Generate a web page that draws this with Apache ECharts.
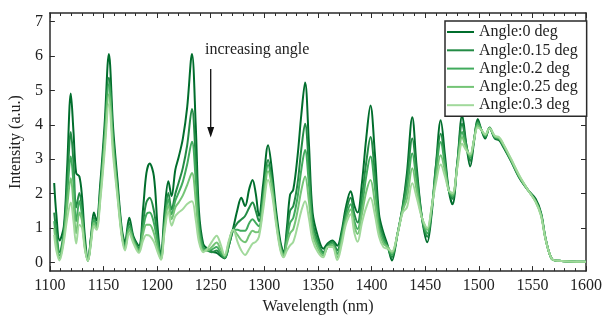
<!DOCTYPE html>
<html><head><meta charset="utf-8">
<script src="https://cdn.jsdelivr.net/npm/echarts@6/dist/echarts.min.js"></script>
<style>html,body{margin:0;padding:0;background:#fff}#c{width:605px;height:320px}</style>
</head><body><div id="c"></div>
<script>
const wavelength = [1104,1106,1109,1113,1116,1119.5,1122,1124.5,1127.5,1130,1132.5,1135.5,1138.5,1141,1143.5,1147,1151,1155,1159,1163,1167,1170,1174,1178,1183,1187,1190,1193,1197,1200.5,1203.5,1207,1210.5,1213.5,1217,1220,1224,1228,1232.5,1236,1239,1243,1247,1251,1255.5,1259,1263,1267,1271,1275,1278.5,1282,1286,1289,1292,1295,1299,1303.5,1307,1311,1315,1318,1321,1324,1327,1331,1334.5,1338,1341.5,1345,1350,1355,1359,1363.5,1368,1372,1376,1380.5,1384,1387,1391,1395,1399,1403,1407,1411,1415,1419,1424,1429,1433,1438,1442,1447,1452,1456,1460,1464.5,1468.5,1472,1475.5,1480,1484.5,1488.5,1492,1495.5,1499,1502.5,1506,1510,1515,1519,1523,1530,1538,1546,1553,1558,1562,1566,1569,1575,1585,1600];
const angle0 = [2.31,1.4,0.64,1.05,2.7,4.91,3.8,2.6,2.5,1.9,0.8,0.07,0.8,1.45,1.22,2.3,4.0,6.06,3.9,2.4,1.0,0.59,1.3,0.75,0.49,1.6,2.6,2.88,2.5,1.0,0.2,1.5,2.36,1.93,2.7,3.05,3.6,4.5,6.06,4.0,1.5,0.54,0.4,0.32,0.28,0.2,0.12,0.5,1.0,1.55,1.88,1.64,2.15,2.4,2.0,1.35,2.3,3.41,2.7,1.5,0.6,0.3,1.0,1.97,2.12,3.1,4.3,5.23,3.5,1.45,0.75,0.4,0.55,0.64,0.49,0.9,1.6,2.07,1.65,1.45,2.3,3.6,4.56,3.2,1.4,0.87,0.5,0.06,0.8,1.64,2.6,4.22,2.8,1.3,0.59,1.4,2.8,4.13,3.1,2.1,1.69,2.9,4.27,3.4,2.79,3.5,4.17,3.85,3.6,3.92,3.6,3.55,3.35,2.95,2.45,2.1,1.85,1.45,0.75,0.25,0.08,0.05,0.03,0.02];
const angle015 = [1.45,0.9,0.3,0.9,2.2,3.79,2.9,1.6,2.02,1.5,0.6,0.06,0.75,1.3,1.1,2.1,3.7,5.37,3.6,2.2,0.9,0.5,1.15,0.7,0.42,1.2,1.75,1.88,1.5,0.7,0.15,1.2,2.02,1.54,2.0,2.31,2.75,3.4,4.46,3.0,1.2,0.45,0.35,0.3,0.35,0.25,0.12,0.5,0.95,1.15,1.25,1.35,1.6,1.74,1.5,1.2,2.0,2.98,2.4,1.3,0.5,0.25,0.8,1.5,1.64,2.3,3.3,4.03,2.8,1.2,0.6,0.3,0.5,0.6,0.35,0.8,1.45,1.88,1.4,1.16,1.9,2.9,3.65,2.6,1.2,0.75,0.45,0.15,0.8,1.6,2.4,3.6,2.6,1.3,0.75,1.5,2.8,3.74,2.9,2.1,1.85,2.9,4.03,3.4,2.95,3.55,4.1,3.85,3.65,3.9,3.62,3.58,3.38,2.97,2.47,2.1,1.8,1.42,0.73,0.25,0.08,0.05,0.03,0.02];
const angle02 = [1.2,0.7,0.2,0.8,1.9,3.08,2.3,1.2,1.79,1.35,0.5,0.05,0.7,1.25,1.05,2.0,3.6,5.18,3.5,2.1,0.85,0.45,1.05,0.65,0.38,1.0,1.4,1.45,1.15,0.55,0.12,1.1,1.83,1.4,1.8,2.02,2.35,2.85,3.51,2.4,1.0,0.4,0.35,0.38,0.45,0.3,0.15,0.55,0.95,0.95,0.92,0.92,1.15,1.26,1.15,1.05,1.85,2.83,2.3,1.25,0.45,0.22,0.65,1.15,1.3,1.9,2.7,3.27,2.3,1.0,0.5,0.25,0.45,0.55,0.25,0.7,1.3,1.69,1.2,0.97,1.6,2.5,3.08,2.2,1.05,0.65,0.45,0.22,0.8,1.55,2.1,3.17,2.35,1.3,0.85,1.55,2.6,3.5,2.8,2.1,1.92,2.85,3.79,3.35,3.05,3.55,4.05,3.85,3.68,3.9,3.65,3.6,3.4,2.98,2.48,2.1,1.78,1.4,0.72,0.25,0.08,0.05,0.03,0.02];
const angle025 = [1.0,0.5,0.12,0.7,1.6,2.45,1.7,0.85,1.45,1.2,0.45,0.05,0.65,1.15,1.0,1.9,3.4,4.89,3.3,2.0,0.8,0.4,0.95,0.6,0.33,0.85,1.1,1.1,0.85,0.4,0.1,1.0,1.66,1.26,1.6,1.74,1.95,2.25,2.6,1.8,0.8,0.35,0.35,0.45,0.58,0.4,0.2,0.6,0.95,0.8,0.65,0.59,0.8,0.92,0.88,0.9,1.7,2.65,2.2,1.2,0.4,0.2,0.55,0.85,0.97,1.5,2.1,2.5,1.8,0.85,0.4,0.2,0.45,0.5,0.15,0.6,1.2,1.54,1.05,0.83,1.4,2.05,2.4,1.75,0.9,0.55,0.45,0.28,0.8,1.5,1.85,2.74,2.1,1.3,0.95,1.6,2.45,3.12,2.65,2.1,1.97,2.8,3.65,3.3,3.1,3.55,3.98,3.85,3.7,3.9,3.66,3.62,3.42,3.0,2.5,2.1,1.77,1.38,0.72,0.25,0.08,0.05,0.03,0.02];
const angle03 = [0.8,0.35,0.06,0.6,1.25,1.74,1.2,0.55,1.1,1.0,0.4,0.05,0.6,1.05,0.95,1.8,3.2,4.6,3.1,1.9,0.75,0.35,0.85,0.55,0.28,0.65,0.8,0.78,0.6,0.3,0.08,0.9,1.48,1.07,1.35,1.45,1.55,1.7,1.78,1.25,0.6,0.3,0.4,0.6,0.78,0.55,0.2,0.65,0.95,0.6,0.35,0.22,0.4,0.55,0.6,0.75,1.55,2.4,2.0,1.1,0.35,0.15,0.35,0.5,0.6,1.05,1.5,1.78,1.3,0.65,0.3,0.15,0.45,0.45,0.07,0.5,1.1,1.4,0.85,0.6,1.15,1.6,1.88,1.4,0.75,0.45,0.4,0.32,0.8,1.45,1.6,2.3,1.9,1.3,1.0,1.6,2.3,2.85,2.5,2.1,2.02,2.75,3.45,3.25,3.15,3.55,3.92,3.85,3.72,3.9,3.68,3.64,3.44,3.02,2.52,2.1,1.76,1.36,0.71,0.25,0.08,0.05,0.03,0.02];
const seriesNames = ['Angle:0 deg','Angle:0.15 deg','Angle:0.2 deg','Angle:0.25 deg','Angle:0.3 deg'];
const yTicks = [0,1,2,3,4,5,6,7];
const annotationText = 'increasing angle';

const seriesValues = [angle0, angle015, angle02, angle025, angle03];
const colors = ['#006d2c','#238b45','#41ab5d','#74c476','#a1d99b'];
const font = 'Liberation Serif';
const axisColor = '#2a2a2a';

const chart = echarts.init(document.getElementById('c'), null, {renderer:'canvas'});

function xAx(pos, showLabel) {
  return {
    type:'value', min:1100, max:1600, interval:50, position:pos,
    axisLine:{show:true, onZero:false, lineStyle:{color:axisColor, width:1.5}},
    axisTick:{show:true, inside:true, length:5, lineStyle:{color:axisColor, width:1}},
    minorTick:{show:true, splitNumber:5, length:3, lineStyle:{color:axisColor, width:1}},
    axisLabel:{show:showLabel, fontFamily:font, fontSize:16, color:'#222', margin:7, formatter: v => String(v)},
    splitLine:{show:false}, minorSplitLine:{show:false},
    name: showLabel ? 'Wavelength (nm)' : '', nameLocation:'middle', nameGap:20,
    nameTextStyle:{fontFamily:font, fontSize:16, color:'#222'}
  };
}
function yAx(pos, showLabel) {
  return {
    type:'value', min:-0.25, max:7.25, position:pos,
    axisLine:{show:true, onZero:false, lineStyle:{color:axisColor, width:1.5}},
    axisTick:{show:true, inside:true, length:5, customValues:yTicks, lineStyle:{color:axisColor, width:1}},
    axisLabel:{show:showLabel, customValues:yTicks, fontFamily:font, fontSize:16, color:'#222', margin:7},
    splitLine:{show:false},
    name: showLabel ? 'Intensity (a.u.)' : '', nameLocation:'middle', nameGap:15,
    nameTextStyle:{fontFamily:font, fontSize:16, color:'#222'}
  };
}

const option = {
  animation:false,
  backgroundColor:'#fff',
  grid:{left:42, right:17, top:13, bottom:46},
  xAxis:[xAx('bottom', true), xAx('top', false)],
  yAxis:[yAx('left', true), yAx('right', false)],
  legend:{
    orient:'vertical', left:445, top:21, icon:'rect', itemWidth:27, itemHeight:2, itemGap:0.3,
    padding:[2,9,2,2], borderColor:'#2a2a2a', borderWidth:1.5, backgroundColor:'#fff',
    textStyle:{fontFamily:font, fontSize:16, color:'#222', lineHeight:18},
    data: seriesNames
  },
  graphic:[
    {type:'text', left:205, top:42, style:{text:annotationText, font:'16px "Liberation Serif"', fill:'#222'}},
    {type:'line', shape:{x1:210.7, y1:69, x2:210.7, y2:130}, style:{stroke:'#111', lineWidth:1.3}},
    {type:'polygon', shape:{points:[[207.2,127],[214.2,127],[210.7,137.5]]}, style:{fill:'#111'}}
  ],
  series: seriesNames.map((n, i) => ({
    name:n, type:'line', xAxisIndex:0, yAxisIndex:0,
    data: wavelength.map((w, k) => [w, seriesValues[i][k]]),
    showSymbol:false, symbol:'none', smooth:0.35,
    lineStyle:{color:colors[i], width:2}, itemStyle:{color:colors[i]}
  }))
};
chart.setOption(option);
</script></body></html>
